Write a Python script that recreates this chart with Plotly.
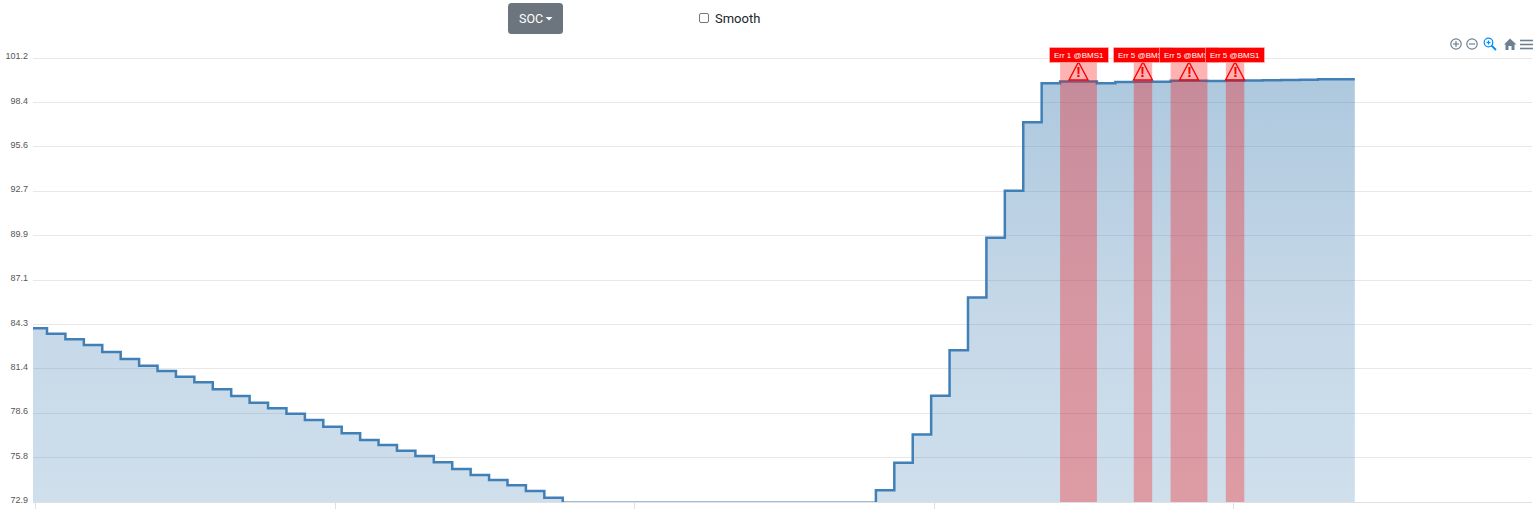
import plotly.graph_objects as go

# ---- data -------------------------------------------------------------
soc_values = [
    83.97, 83.63, 83.27, 82.91, 82.46, 82.01, 81.59, 81.25, 80.89, 80.53,
    80.08, 79.66, 79.23, 78.87, 78.53, 78.13, 77.70, 77.28, 76.85, 76.53,
    76.17, 75.83, 75.43, 75.00, 74.62, 74.30, 73.96, 73.60, 73.17, 72.86,
    72.845, 72.845, 72.845, 72.845, 72.845, 72.845, 72.845, 72.845, 72.845, 72.845,
    72.845, 72.845, 72.845, 72.845, 72.845, 72.845,
    73.65, 75.40, 77.21, 79.68, 82.57, 85.93, 89.75, 92.74, 97.10, 99.59,
    99.70, 99.70, 99.59, 99.67, 99.69, 99.69, 99.75, 99.75, 99.73, 99.75,
    99.77, 99.78, 99.80, 99.82, 99.84, 99.85, 99.85,
]
sample_index = list(range(len(soc_values)))
baseline = [72.9] * len(soc_values)

y_tick_vals = [72.9, 75.73, 78.56, 81.39, 84.22, 87.05, 89.88, 92.71, 95.54, 98.37, 101.2]
y_tick_text = ["72.9", "75.8", "78.6", "81.4", "84.3", "87.1", "89.9", "92.7", "95.6", "98.4", "101.2"]
x_tick_vals = [0.40, 16.66, 32.91, 49.17, 65.42]
x_tick_text = ["", "", "", "", ""]

error_starts = [56, 60, 62, 65]
error_ends = [58, 61, 64, 66]
error_labels = ["Err 1 @BMS1", "Err 5 @BMS1", "Err 5 @BMS1", "Err 5 @BMS1"]

# ---- layout geometry ---------------------------------------------------
W, H = 1538, 517
L, R, T, B = 33, 1532, 58, 502
X_RANGE = [0.24, 81.62]
Y_RANGE = [72.9, 101.2]
GRID = "#e8e8e8"


def px(x):
    return (x - L) / (R - L)


def py(y):
    return (B - y) / (B - T)


def rrect(x0, y0, x1, y1, r):
    a, b, c, d = px(x0), px(x1), py(y0), py(y1)
    rx, ry = r / (R - L), r / (B - T)
    return (f"M {a+rx} {c} L {b-rx} {c} Q {b} {c} {b} {c-ry} L {b} {d+ry} Q {b} {d} {b-rx} {d} "
            f"L {a+rx} {d} Q {a} {d} {a} {d+ry} L {a} {c-ry} Q {a} {c} {a+rx} {c} Z")


def pxpath(points, close=True):
    s = "M " + " L ".join(f"{px(x)} {py(y)}" for x, y in points)
    return s + (" Z" if close else "")


fig = go.Figure()
fig.add_trace(go.Scatter(
    x=sample_index, y=baseline, mode="lines", line=dict(width=0, shape="hv"),
    hoverinfo="skip", showlegend=False,
))
fig.add_trace(go.Scatter(
    x=sample_index, y=soc_values, mode="lines", name="SOC",
    line=dict(color="#4080b6", width=2.5, shape="hv"),
    fill="tonexty",
    fillgradient=dict(
        type="vertical",
        colorscale=[[0, "rgba(70,130,180,0.26)"], [0.45, "rgba(70,130,180,0.31)"], [1, "rgba(70,130,180,0.44)"]],
    ),
    fillcolor="rgba(70,130,180,0.3)",
    showlegend=False,
))

shapes = [dict(type="line", xref="paper", yref="paper", x0=0, x1=1, y0=py(58.5), y1=py(58.5),
               line=dict(color=GRID, width=1), layer="below")]
annotations = []
for s, e, label in zip(error_starts, error_ends, error_labels):
    mid = (s + e) / 2
    shapes.append(dict(type="rect", xref="x", yref="y", x0=s, x1=e, y0=Y_RANGE[0], y1=Y_RANGE[1],
                       fillcolor="rgba(255,0,0,0.3)", line=dict(width=0), layer="above"))
    shapes.append(dict(type="path", xref="x", yref="paper", xsizemode="pixel", ysizemode="pixel",
                       xanchor=mid, yanchor=py(80),
                       path="M -9.5 0 L 9.5 0 L 0 18 Z",
                       line=dict(color="#ff0000", width=1.4), fillcolor="rgba(255,255,255,0)",
                       layer="above"))
    annotations.append(dict(xref="x", yref="paper", x=mid, y=py(71.5), text="<b>!</b>", showarrow=False,
                            font=dict(family="Liberation Sans", size=15, color="#ff0000"),
                            xanchor="center", yanchor="middle"))
for s, e, label in zip(error_starts, error_ends, error_labels):
    mid = (s + e) / 2
    annotations.append(dict(xref="x", yref="paper", x=mid, y=py(55.3), text=label, showarrow=False,
                            font=dict(family="Liberation Sans", size=8, color="#ffffff"),
                            bgcolor="#ff0000", bordercolor="rgba(255,190,190,0.6)", borderwidth=1, borderpad=0,
                            width=58, height=14, align="center", xanchor="center", yanchor="middle"))

ICON = "#6e8192"
BLUE = "#008ffb"


def circle(cx, cy, r, color):
    return dict(type="circle", xref="paper", yref="paper", x0=px(cx - r), x1=px(cx + r),
                y0=py(cy + r), y1=py(cy - r), line=dict(color=color, width=1.2))


def seg(x0, y0, x1, y1, color, w=1.2):
    return dict(type="line", xref="paper", yref="paper", x0=px(x0), x1=px(x1), y0=py(y0), y1=py(y1),
                line=dict(color=color, width=w))


shapes += [
    circle(1456, 44, 5.2, ICON), seg(1453, 44, 1459, 44, ICON), seg(1456, 41, 1456, 47, ICON),
    circle(1472, 44, 5.2, ICON), seg(1469, 44, 1475, 44, ICON),
    circle(1488.5, 42.5, 4.3, BLUE), seg(1486.5, 42.5, 1490.5, 42.5, BLUE), seg(1488.5, 40.5, 1488.5, 44.5, BLUE),
    seg(1491.5, 45.5, 1496, 50, BLUE, 1.8),
    dict(type="path", xref="paper", yref="paper", line=dict(width=0), fillcolor=ICON,
         path=pxpath([(1504, 44.5), (1510, 38.5), (1516.5, 44.5), (1514.5, 44.5), (1514.5, 50),
                      (1511.5, 50), (1511.5, 46), (1508.5, 46), (1508.5, 50), (1505.5, 50), (1505.5, 44.5)])),
    seg(1520, 40.5, 1533, 40.5, ICON, 1.6), seg(1520, 44.5, 1533, 44.5, ICON, 1.6), seg(1520, 48.5, 1533, 48.5, ICON, 1.6),
    # SOC dropdown button
    dict(type="path", xref="paper", yref="paper", line=dict(width=0), fillcolor="#6c757d",
         path=rrect(508, 3, 563, 34, 3.5)),
    dict(type="path", xref="paper", yref="paper", line=dict(width=0), fillcolor="#ffffff",
         path=pxpath([(545.5, 17), (552.5, 17), (549, 20.5)])),
    # Smooth checkbox
    dict(type="path", xref="paper", yref="paper", line=dict(color="#767676", width=1), fillcolor="#ffffff",
         path=rrect(699.5, 13.5, 708.5, 22.5, 1.5)),
]
annotations += [
    dict(xref="paper", yref="paper", x=px(518.5), y=py(18.5), text="SOC", showarrow=False,
         font=dict(family="Roboto", size=12.5, color="#ffffff"), xanchor="left", yanchor="middle",
         borderpad=0, borderwidth=0),
    dict(xref="paper", yref="paper", x=px(715), y=py(18), text="Smooth", showarrow=False,
         font=dict(family="Roboto", size=13, color="#212529"), xanchor="left", yanchor="middle",
         borderpad=0, borderwidth=0),
]

fig.update_layout(
    width=W, height=H,
    margin=dict(l=L, r=W - R, t=T, b=H - B, pad=0),
    paper_bgcolor="#ffffff", plot_bgcolor="#ffffff",
    showlegend=False, hovermode=False,
    shapes=shapes, annotations=annotations,
    font=dict(family="Liberation Sans", size=9, color="#373d3f"),
    xaxis=dict(range=X_RANGE, tickmode="array", tickvals=x_tick_vals, ticktext=x_tick_text,
               showgrid=False, zeroline=False, showline=True, linecolor="#e0e0e0", linewidth=1,
               ticks="outside", ticklen=6, tickcolor="#e0e0e0", tickwidth=1),
    yaxis=dict(range=Y_RANGE, tickmode="array", tickvals=y_tick_vals, ticktext=y_tick_text,
               showgrid=True, gridcolor=GRID, gridwidth=1, zeroline=False, showline=False,
               ticks="", ticklabelstandoff=4, ticklabelshift=-2,
               tickfont=dict(family="Liberation Sans", size=9, color="#555555")),
)

fig.write_html("out.html", config=dict(displayModeBar=False),
               post_script="document.body.style.margin='0';document.documentElement.style.overflow='hidden';")
